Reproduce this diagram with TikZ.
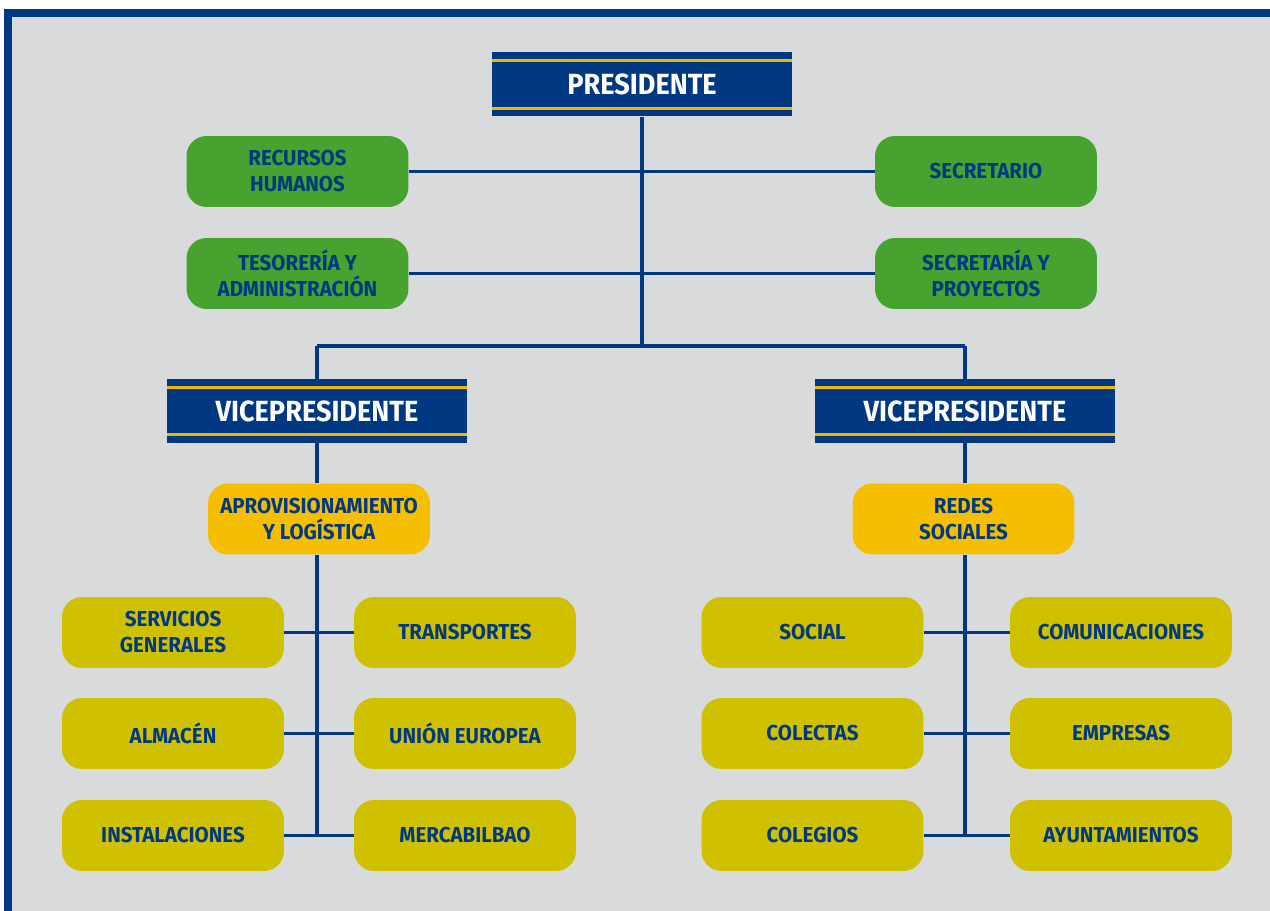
\documentclass[tikz,border=0pt]{standalone}
\usepackage{fontspec}
\setmainfont{Fira Sans}
\usetikzlibrary{calc}
\definecolor{navy}{RGB}{0,57,130}
\definecolor{stripe}{RGB}{242,184,0}
\definecolor{leafgreen}{RGB}{72,162,47}
\definecolor{amber}{RGB}{245,191,0}
\definecolor{mustard}{RGB}{208,193,0}
\definecolor{panel}{RGB}{217,218,220}

\begin{document}
\begin{tikzpicture}[x=0.02cm,y=-0.02cm,
	chief/.style={fill=navy, text=white, minimum width=6cm, minimum height=1.28cm, inner sep=0pt,
		font=\bfseries\fontsize{16.6}{18}\selectfont\addfontfeature{FakeStretch=0.93},
		path picture={
			\draw[stripe, line width=0.06cm] ([yshift=-0.16cm]path picture bounding box.north west) -- ([yshift=-0.16cm]path picture bounding box.north east);
			\draw[stripe, line width=0.06cm] ([yshift=0.16cm]path picture bounding box.south west) -- ([yshift=0.16cm]path picture bounding box.south east);
		}},
	staff/.style={fill=leafgreen, text=navy, rounded corners=0.4cm, minimum width=4.44cm, minimum height=1.42cm, inner sep=0pt,
		align=center, font=\bfseries\fontsize{12.3}{14.8}\selectfont\addfontfeature{FakeStretch=0.95}},
	area/.style={staff, fill=amber},
	unit/.style={staff, fill=mustard},
	link/.style={navy, line width=0.075cm}]

	% frame
	\useasboundingbox (0,0) rectangle (1270,911);
	\fill[white] (0,0) rectangle (1270,911);
	\fill[panel] (12,17) rectangle (1270,911);
	\fill[navy] (4,9) rectangle (1270,17);
	\fill[navy] (4,9) rectangle (12,911);

	% top level
	\node[chief] (pres) at (642,84.5) {PRESIDENTE};
	\node[staff] (rh) at (297.5,171.5) {RECURSOS\\HUMANOS};
	\node[staff] (secr) at (986,171.5) {SECRETARIO};
	\node[staff] (tes) at (297.5,273.5) {TESORERÍA Y\\ADMINISTRACIÓN};
	\node[staff] (sp) at (986,273.5) {SECRETARÍA Y\\PROYECTOS};
	\coordinate (split) at (642,346);

	% vicepresidents
	\node[chief] (vpl) at (317,411) {VICEPRESIDENTE};
	\node[chief] (vpr) at (965,411) {VICEPRESIDENTE};
	\node[area] (apl) at (319,519) {APROVISIONAMIENTO\\Y LOGÍSTICA};
	\node[area] (redes) at (963.5,519) {REDES\\SOCIALES};

	% left units
	\node[unit] (sg) at (173,632.5) {SERVICIOS\\GENERALES};
	\node[unit] (tr) at (465,632.5) {TRANSPORTES};
	\node[unit] (alm) at (173,733.5) {ALMACÉN};
	\node[unit] (ue) at (465,733.5) {UNIÓN EUROPEA};
	\node[unit] (inst) at (173,835.5) {INSTALACIONES};
	\node[unit] (merc) at (465,835.5) {MERCABILBAO};

	% right units
	\node[unit] (soc) at (812.5,632.5) {SOCIAL};
	\node[unit] (com) at (1121,632.5) {COMUNICACIONES};
	\node[unit] (col) at (812.5,733.5) {COLECTAS};
	\node[unit] (emp) at (1121,733.5) {EMPRESAS};
	\node[unit] (cole) at (812.5,835.5) {COLEGIOS};
	\node[unit] (ayu) at (1121,835.5) {AYUNTAMIENTOS};

	% connectors
	\draw[link] (pres) -- (split);
	\draw[link] (rh) -- (secr);
	\draw[link] (tes) -- (sp);
	\draw[link] (vpl |- split) -- (vpr |- split);
	\draw[link] (vpl |- split) -- (vpl);
	\draw[link] (vpr |- split) -- (vpr);
	\draw[link] (vpl) -- (vpl |- apl.north);
	\draw[link] (vpr) -- (vpr |- redes.north);
	\draw[link] (vpl |- apl.south) -- (vpl |- inst);
	\draw[link] (vpr |- redes.south) -- (vpr |- cole);
	\draw[link] (sg) -- (tr);
	\draw[link] (alm) -- (ue);
	\draw[link] (inst) -- (merc);
	\draw[link] (soc) -- (com);
	\draw[link] (col) -- (emp);
	\draw[link] (cole) -- (ayu);
\end{tikzpicture}
\end{document}
